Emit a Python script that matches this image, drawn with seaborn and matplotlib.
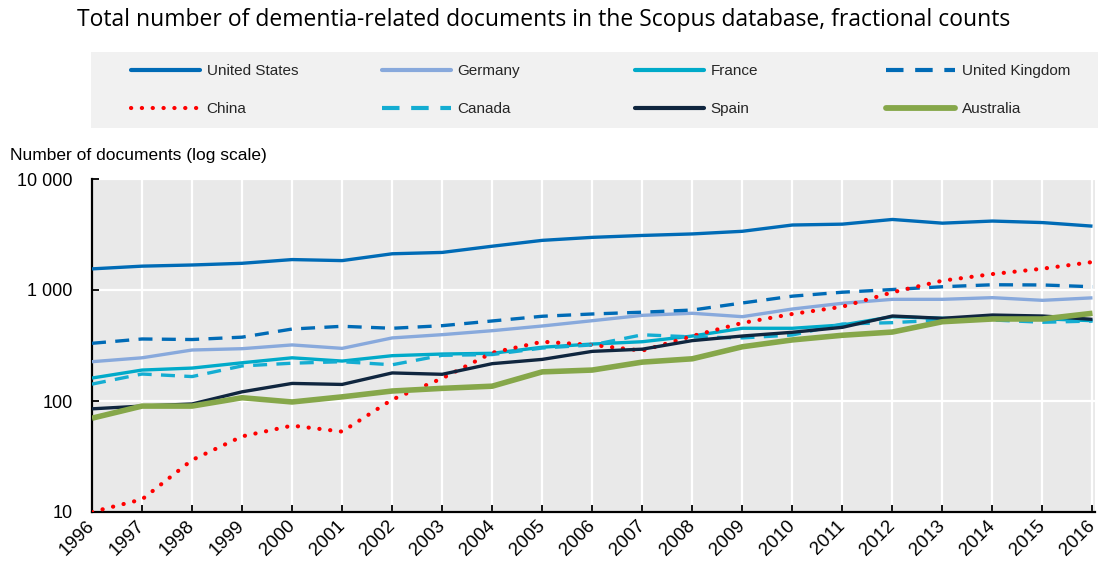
import numpy as np
import pandas as pd
import matplotlib
matplotlib.use("Agg")
import matplotlib.pyplot as plt
import matplotlib.ticker as mticker
import matplotlib.transforms as mtrans
from matplotlib.patches import Rectangle
from matplotlib.lines import Line2D
import seaborn as sns

# ---------------- data ----------------
years = list(range(1996, 2017))
united_states = [1550, 1640, 1680, 1740, 1880, 1840, 2120, 2180, 2480, 2800, 2980,
                 3100, 3200, 3380, 3850, 3920, 4320, 4000, 4180, 4050, 3760]
germany = [226, 245, 288, 296, 320, 298, 370, 396, 430, 474, 529,
           591, 617, 575, 674, 759, 824, 824, 853, 807, 850]
france = [161, 190, 198, 221, 245, 229, 256, 265, 269, 305, 326,
          342, 385, 452, 452, 484, 575, 556, 556, 550, 529]
united_kingdom = [331, 362, 358, 376, 445, 471, 452, 477, 526, 580, 608,
                  631, 660, 764, 880, 955, 1010, 1070, 1115, 1110, 1070]
china = [10, 13, 29.4, 48, 60, 53, 103, 160, 272, 342, 320,
         284, 385, 505, 608, 707, 953, 1213, 1392, 1556, 1787]
canada = [142, 175, 166, 207, 219, 226, 212, 258, 262, 300, 320,
          395, 378, 370, 393, 494, 508, 537, 537, 512, 525]
spain = [85, 90, 94, 121, 144, 141, 179, 174, 217, 237, 280,
         293, 350, 385, 416, 461, 583, 556, 595, 583, 544]
australia = [70, 90, 90, 107, 98, 109, 123, 130, 136, 183, 190,
             224, 240, 308, 355, 391, 418, 518, 548, 548, 617]

countries = ["United States", "Germany", "France", "United Kingdom",
             "China", "Canada", "Spain", "Australia"]
series = [united_states, germany, france, united_kingdom,
          china, canada, spain, australia]

title = "Total number of dementia-related documents in the Scopus database, fractional counts"
ylabel = "Number of documents (log scale)"
ytick_values = [10, 100, 1000, 10000]

# ---------------- styles ----------------
C_US = "#006BB6"
C_DE = "#88A9DC"
C_FR = "#00AAC9"
C_CN = "#FF0000"
C_CA = "#14ADD2"
C_ES = "#10263F"
C_AU = "#86A74A"
styles = {
    "United States": dict(color=C_US, lw=2.4, ls="-"),
    "Germany": dict(color=C_DE, lw=2.4, ls="-"),
    "France": dict(color=C_FR, lw=2.4, ls="-"),
    "United Kingdom": dict(color=C_US, lw=2.4, ls=(0, (4.2, 2.8))),
    "China": dict(color=C_CN, lw=3.0, ls=(0, (0.05, 2.55))),
    "Canada": dict(color=C_CA, lw=2.4, ls=(0, (4.2, 2.8))),
    "Spain": dict(color=C_ES, lw=2.4, ls="-"),
    "Australia": dict(color=C_AU, lw=4.0, ls="-"),
}

sns.set_theme(style="white")
plt.rcParams["font.family"] = ["Liberation Sans", "DejaVu Sans"]

W, H = 1099, 561
fig = plt.figure(figsize=(W / 100, H / 100), dpi=100)
ax = fig.add_axes([92 / W, 1 - 512 / H, (1095 - 92) / W, (512 - 179) / H])
ax.set_facecolor("#E9E9E9")

for name, vals in zip(countries, series):
    st = styles[name]
    sns.lineplot(x=years, y=vals, ax=ax, color=st["color"], linewidth=st["lw"],
                 linestyle=st["ls"], dash_capstyle="round" if name == "China" else "butt",
                 solid_capstyle="butt", legend=False, zorder=3)

ax.set_yscale("log")
ax.set_ylim(10, 10000)
ax.set_xlim(1996, 2016.05)
ax.yaxis.set_major_locator(mticker.FixedLocator(ytick_values))
ax.yaxis.set_minor_locator(mticker.NullLocator())
ax.yaxis.set_major_formatter(mticker.FuncFormatter(lambda v, p: f"{int(round(v)):,}".replace(",", " ")))
ax.set_xticks(years)
ax.set_xticklabels([str(y) for y in years], rotation=45, ha="right", va="center",
                   rotation_mode="anchor")
offset = mtrans.ScaledTranslation(7 / 100, 0, fig.dpi_scale_trans)
for lab in ax.get_xticklabels():
    lab.set_transform(lab.get_transform() + offset)

ax.grid(True, which="major", color="white", lw=1.6)
ax.set_axisbelow(True)
for s in ["top", "right"]:
    ax.spines[s].set_visible(False)
for s in ["left", "bottom"]:
    ax.spines[s].set_color("black")
    ax.spines[s].set_linewidth(1.6)
ax.tick_params(axis="x", direction="in", length=5, width=1.3, color="black",
               labelsize=13.5, pad=8, bottom=True, labelcolor="black")
ax.tick_params(axis="y", direction="in", length=5, width=1.3, color="black",
               labelsize=13, pad=14, left=True, labelcolor="black")
ax.set_xlabel("")
ax.set_ylabel("")

# title and axis label
fig.text(0.495, 1 - 20 / H, title, ha="center", va="center", fontsize=16.5,
         family=["Open Sans", "DejaVu Sans"], color="black")
fig.text(10 / W, 1 - 155 / H, ylabel, ha="left", va="center", fontsize=12.5, color="black")

# legend background
fig.add_artist(Rectangle((91 / W, 1 - 128 / H), (1098 - 91) / W, (128 - 52) / H,
                         transform=fig.transFigure, facecolor="#F1F1F1",
                         edgecolor="none", zorder=0))

col_x = [131, 382, 635, 886]
for c in range(4):
    handles, labels = [], []
    for r in range(2):
        name = countries[r * 4 + c]
        st = styles[name]
        handles.append(Line2D([], [], color=st["color"],
                              lw=4.2 if name == "Australia" else 3.0,
                              ls=st["ls"], dash_capstyle="round" if name == "China" else "butt"))
        labels.append(name)
    fig.legend(handles, labels, loc="upper left",
               bbox_to_anchor=(col_x[c] / W, 1 - 64 / H),
               frameon=False, handlelength=4.5,
               handletextpad=0.45, labelspacing=1.6, borderpad=0,
               borderaxespad=0,
               prop={"family": ["Liberation Sans", "DejaVu Sans"], "size": 11})

fig.savefig("out.png", dpi=100)
